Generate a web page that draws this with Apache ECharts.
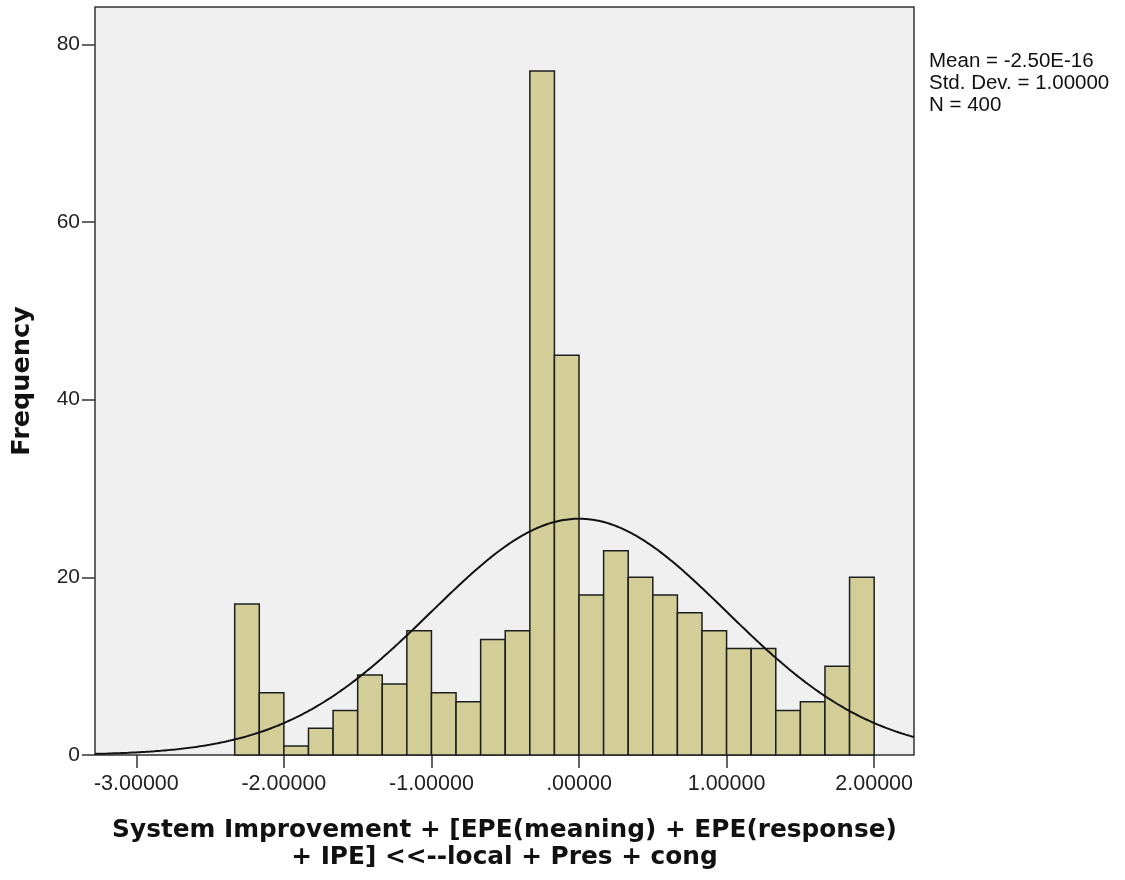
<!DOCTYPE html>
<html>
<head>
<meta charset="utf-8">
<script src="https://cdn.jsdelivr.net/npm/echarts@6/dist/echarts.min.js"></script>
<style>
  html, body { margin: 0; padding: 0; background: #ffffff; }
  #chart { width: 1125px; height: 880px; }
</style>
</head>
<body>
<div id="chart"></div>
<script>
// Histogram bins: first bin's left edge and common width
const binStart = -7 / 3;
const binWidth = 1 / 6;
const frequencies = [17, 7, 1, 3, 5, 9, 8, 14, 7, 6, 13, 14, 77, 45, 18, 23, 20, 18, 16, 14, 12, 12, 5, 6, 10, 20];

// Axis ticks and labels
const xTickValues = [-3, -2, -1, 0, 1, 2];
const xTickLabels = ['-3.00000', '-2.00000', '-1.00000', '.00000', '1.00000', '2.00000'];
const yTickValues = [0, 20, 40, 60, 80];

// Summary statistics for the fitted normal curve
const mean = -2.50e-16;
const stdDev = 1.0;
const nCases = 400;
const statLines = ['Mean = -2.50E-16', 'Std. Dev. = 1.00000', 'N = 400'];

const xTitle = 'System Improvement + [EPE(meaning) + EPE(response)\n+ IPE] <<--local + Pres + cong';
const yTitle = 'Frequency';

const xMin = -3.28, xMax = 2.27;
const yMin = 0, yMax = 84.2;

// Bars: [left edge, count, right edge]
const barData = frequencies.map((f, i) => [binStart + i * binWidth, f, binStart + (i + 1) * binWidth]);

// Normal density scaled to counts per bin
const curveData = [];
for (let k = 0; k <= 400; k++) {
  const x = xMin + (xMax - xMin) * k / 400;
  const z = (x - mean) / stdDev;
  const y = nCases * binWidth * Math.exp(-0.5 * z * z) / (stdDev * Math.sqrt(2 * Math.PI));
  curveData.push([x, y]);
}

const chart = echarts.init(document.getElementById('chart'), null, { renderer: 'canvas' });

const labelFont = '"Liberation Sans", Arial, sans-serif';
const titleFont = '"DejaVu Sans", Verdana, sans-serif';

const gridLeft = 95, gridRight = 211, gridTop = 7, gridBottom = 125;
const plotCenterX = gridLeft + (1125 - gridLeft - gridRight) / 2;
const plotCenterY = gridTop + (880 - gridTop - gridBottom) / 2;

chart.setOption({
  animation: false,
  backgroundColor: '#ffffff',
  grid: {
    left: gridLeft, right: gridRight, top: gridTop, bottom: gridBottom,
    show: true,
    backgroundColor: '#f0f0f0',
    borderColor: '#333333',
    borderWidth: 1.5
  },
  xAxis: {
    type: 'value',
    min: xMin, max: xMax,
    axisLine: { show: false, onZero: false },
    splitLine: { show: false },
    axisTick: {
      show: true, length: 13, customValues: xTickValues,
      lineStyle: { color: '#333333', width: 1.5 }
    },
    axisLabel: {
      customValues: xTickValues,
      margin: 18,
      fontFamily: labelFont, fontSize: 21.5, color: '#222222',
      formatter: v => {
        const i = xTickValues.findIndex(t => Math.abs(t - v) < 1e-9);
        return i >= 0 ? xTickLabels[i] : '';
      }
    }
  },
  yAxis: {
    type: 'value',
    min: yMin, max: yMax,
    axisLine: { show: false, onZero: false },
    splitLine: { show: false },
    axisTick: {
      show: true, length: 13, customValues: yTickValues,
      lineStyle: { color: '#333333', width: 1.5 }
    },
    axisLabel: {
      customValues: yTickValues,
      margin: 15,
      fontFamily: labelFont, fontSize: 21, color: '#222222'
    }
  },
  graphic: [
    {
      type: 'text',
      left: 929, top: 50,
      style: {
        text: statLines.join('\n'),
        font: '20.5px ' + labelFont,
        lineHeight: 22,
        fill: '#111111'
      }
    },
    {
      type: 'text',
      x: plotCenterX, y: 844,
      style: {
        text: xTitle,
        font: 'bold 24.8px ' + titleFont,
        lineHeight: 27,
        fill: '#111111',
        align: 'center',
        verticalAlign: 'middle'
      }
    },
    {
      type: 'text',
      x: 22, y: plotCenterY,
      rotation: Math.PI / 2,
      style: {
        text: yTitle,
        font: 'bold 25.5px ' + titleFont,
        fill: '#111111',
        align: 'center',
        verticalAlign: 'middle'
      }
    }
  ],
  series: [
    {
      type: 'custom',
      data: barData,
      encode: { x: [0, 2], y: 1 },
      renderItem: (params, api) => {
        const topLeft = api.coord([api.value(0), api.value(1)]);
        const bottomRight = api.coord([api.value(2), 0]);
        return {
          type: 'rect',
          shape: {
            x: topLeft[0], y: topLeft[1],
            width: bottomRight[0] - topLeft[0],
            height: bottomRight[1] - topLeft[1]
          },
          style: { fill: '#d3ce97', stroke: '#1e1e1e', lineWidth: 1.5 }
        };
      },
      z: 2
    },
    {
      type: 'line',
      data: curveData,
      showSymbol: false,
      smooth: false,
      lineStyle: { color: '#111111', width: 2 },
      z: 3
    }
  ]
});
</script>
</body>
</html>
